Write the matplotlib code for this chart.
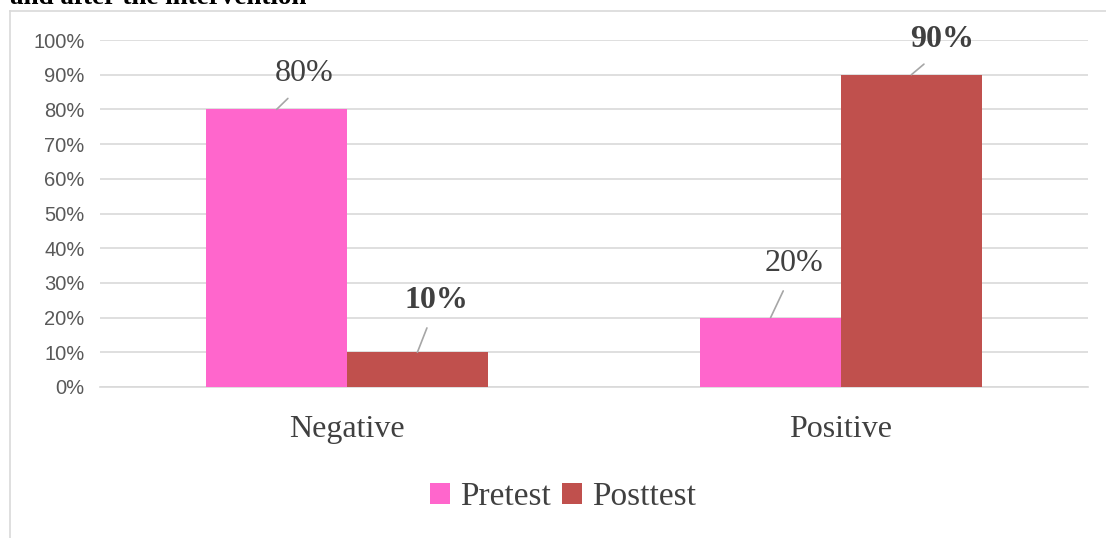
import numpy as np
import matplotlib
matplotlib.use('Agg')
import matplotlib.pyplot as plt
from matplotlib.lines import Line2D

plt.rcParams.update({
    'font.family': 'serif',
    'font.serif': ['Liberation Serif', 'DejaVu Serif'],
    'figure.dpi': 100,
})

categories = ['Negative', 'Positive']
series = ['Pretest', 'Posttest']
pretest = [0.80, 0.20]
posttest = [0.10, 0.90]
colors = ['#FF66CC', '#C0504D']
label_bold = [[False, True], [False, True]]  # [category][series]
yticks = np.arange(0, 1.01, 0.1)

fig = plt.figure(figsize=(11.06, 5.38), dpi=100)
fig.patch.set_facecolor('white')

# cropped title line and the chart border from the source document
fig.text(10 / 1106, 1 - 4 / 538, 'and after the intervention', fontsize=19.5,
         fontweight='bold', ha='left', va='baseline', color='black')
grey = '#d9d9d9'
fig.add_artist(Line2D([10 / 1106, 10 / 1106], [1 - 11 / 538, 0],
                      transform=fig.transFigure, color=grey, lw=1.2))
fig.add_artist(Line2D([10 / 1106, 1], [1 - 11 / 538, 1 - 11 / 538],
                      transform=fig.transFigure, color=grey, lw=1.2))

ax = fig.add_axes([100 / 1106, 1 - 387 / 538, 988 / 1106, 347 / 538])

x = np.arange(len(categories))
w = 0.285
b1 = ax.bar(x - w / 2, pretest, w, color=colors[0], label=series[0], zorder=3)
b2 = ax.bar(x + w / 2, posttest, w, color=colors[1], label=series[1], zorder=3)

ax.set_xlim(-0.5, 1.5)
ax.set_ylim(0, 1.0)
ax.set_yticks(yticks)
ax.set_yticklabels([f'{int(round(v * 100))}%' for v in yticks],
                   family='Liberation Sans', fontsize=14.5, color='#595959')
ax.set_xticks(x)
ax.set_xticklabels(categories, fontsize=23, color='#404040')
ax.tick_params(axis='both', length=0)
ax.tick_params(axis='x', pad=20)
ax.tick_params(axis='y', pad=11)
ax.grid(axis='y', color=grey, lw=1.2, zorder=0)
for s in ['top', 'right', 'left']:
    ax.spines[s].set_visible(False)
ax.spines['bottom'].set_color(grey)
ax.spines['bottom'].set_linewidth(1.2)

# data labels with leader lines (offsets in pixels)
offsets = [[(28, 36), (19, 52)], [(23, 54), (31, 35)]]
for si, bars in enumerate([b1, b2]):
    for ci, bar in enumerate(bars):
        v = bar.get_height()
        cx = bar.get_x() + bar.get_width() / 2
        dx, dy = offsets[ci][si]
        ax.annotate(f'{int(round(v * 100))}%', xy=(cx, v),
                    xytext=(dx, dy), textcoords='offset pixels',
                    ha='center', va='center', fontsize=23, color='#404040',
                    fontweight='bold' if label_bold[ci][si] else 'normal',
                    arrowprops=dict(arrowstyle='-', color='#a6a6a6', lw=1.2,
                                    shrinkA=8, shrinkB=0, relpos=(0.45, 0.1)),
                    zorder=5)

fig.legend(loc='center', bbox_to_anchor=(0.509, 0.076), ncol=2, frameon=False,
           fontsize=24, handlelength=0.6, handleheight=0.6,
           handletextpad=0.3, columnspacing=0.35, labelcolor='#404040')

fig.savefig('out.png', dpi=100)
